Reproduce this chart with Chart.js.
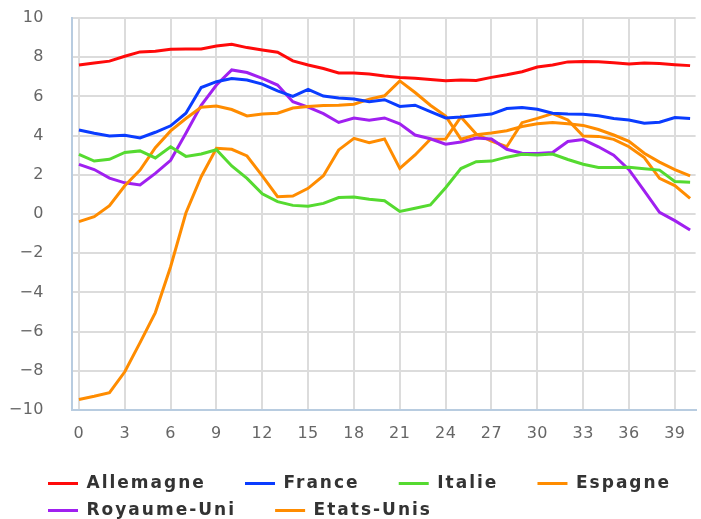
<!DOCTYPE html>
<html>
<head>
<meta charset="utf-8">
<script src="https://cdn.jsdelivr.net/npm/chart.js@4.4.0/dist/chart.umd.min.js"></script>
<style>
  html, body { margin: 0; padding: 0; background: #fff; }
  #chart { display: block; }
</style>
</head>
<body>
<canvas id="chart" width="701" height="519"></canvas>
<script>
var periods = [0, 1, 2, 3, 4, 5, 6, 7, 8, 9, 10, 11, 12, 13, 14, 15, 16, 17, 18, 19, 20,
  21, 22, 23, 24, 25, 26, 27, 28, 29, 30, 31, 32, 33, 34, 35, 36, 37, 38, 39, 40];
var xTicks = [0, 3, 6, 9, 12, 15, 18, 21, 24, 27, 30, 33, 36, 39];
var yTicks = [-10, -8, -6, -4, -2, 0, 2, 4, 6, 8, 10];

var allemagne = [7.6, 7.7, 7.8, 8.05, 8.27, 8.3, 8.4, 8.42, 8.42, 8.57, 8.66, 8.49, 8.37, 8.25, 7.81,
  7.6, 7.42, 7.2, 7.19, 7.14, 7.04, 6.97, 6.92, 6.86, 6.8, 6.84, 6.81, 6.97, 7.1, 7.26,
  7.5, 7.6, 7.76, 7.78, 7.77, 7.72, 7.65, 7.7, 7.68, 7.62, 7.57];
var france = [4.29, 4.12, 3.98, 4.02, 3.88, 4.17, 4.5, 5.14, 6.45, 6.75, 6.91, 6.84, 6.63, 6.28, 6.0,
  6.36, 6.02, 5.92, 5.87, 5.73, 5.83, 5.49, 5.55, 5.22, 4.9, 4.95, 5.03, 5.1, 5.38, 5.43,
  5.34, 5.14, 5.1, 5.09, 5.01, 4.87, 4.8, 4.63, 4.68, 4.92, 4.87];
var italie = [3.04, 2.7, 2.79, 3.14, 3.22, 2.86, 3.43, 2.94, 3.06, 3.28, 2.45, 1.82, 1.03, 0.63, 0.44,
  0.4, 0.54, 0.84, 0.87, 0.75, 0.68, 0.13, 0.29, 0.46, 1.34, 2.32, 2.67, 2.7, 2.9, 3.05,
  3.01, 3.06, 2.78, 2.54, 2.37, 2.37, 2.38, 2.31, 2.24, 1.66, 1.62];
var espagne = [-0.39, -0.14, 0.42, 1.44, 2.24, 3.38, 4.24, 4.87, 5.45, 5.51, 5.33, 5.0, 5.1, 5.14, 5.41,
  5.49, 5.53, 5.55, 5.6, 5.86, 6.03, 6.79, 6.2, 5.55, 5.0, 3.82, 4.05, 4.13, 4.25, 4.46,
  4.6, 4.67, 4.6, 4.52, 4.31, 4.03, 3.71, 3.1, 2.65, 2.26, 1.95];
var royaumeUni = [2.53, 2.27, 1.83, 1.59, 1.48, 2.07, 2.74, 4.12, 5.55, 6.58, 7.35, 7.22, 6.92, 6.58, 5.73,
  5.45, 5.12, 4.67, 4.9, 4.78, 4.9, 4.6, 4.03, 3.84, 3.56, 3.67, 3.88, 3.83, 3.3, 3.1,
  3.09, 3.14, 3.7, 3.8, 3.43, 3.0, 2.26, 1.18, 0.08, -0.34, -0.82];
var etatsUnis = [-9.46, -9.3, -9.12, -8.05, -6.56, -5.03, -2.69, 0.05, 1.9, 3.35, 3.3, 2.96, 1.95, 0.88, 0.92,
  1.31, 1.95, 3.27, 3.86, 3.64, 3.83, 2.33, 3.01, 3.81, 3.83, 4.95, 4.08, 3.72, 3.43, 4.66,
  4.88, 5.12, 4.8, 3.98, 3.96, 3.81, 3.43, 2.88, 1.82, 1.45, 0.8];

var seriesNames = ["Allemagne", "France", "Italie", "Espagne", "Royaume-Uni", "Etats-Unis"];
var seriesValues = [allemagne, france, italie, espagne, royaumeUni, etatsUnis];
var seriesColors = ["#ff0a0a", "#0a3cff", "#55da30", "#ff8c00", "#a020f0", "#ff8c00"];

var datasets = seriesNames.map(function (name, i) {
  return {
    label: name,
    data: seriesValues[i],
    borderColor: seriesColors[i],
    backgroundColor: seriesColors[i],
    borderWidth: 3,
    pointRadius: 0,
    tension: 0,
    fill: false
  };
});

// canvas letter spacing: wide for the legend, light for the axis labels
var spacingPlugin = {
  id: "spacing",
  beforeLayout: function (chart) { chart.ctx.letterSpacing = "2px"; },
  afterLayout: function (chart) {
    // push the legend rows right, the y axis keeps its place
    chart.legend.left += 30;
    chart.legend.right += 30;
  },
  beforeDraw: function (chart) { chart.ctx.letterSpacing = "2px"; },
  afterDatasetsDraw: function (chart) { chart.ctx.letterSpacing = "0.5px"; }
};

var tickFont = { family: "'DejaVu Sans', sans-serif", size: 16 };

new Chart(document.getElementById("chart"), {
  type: "line",
  data: { labels: periods, datasets: datasets },
  plugins: [spacingPlugin],
  options: {
    responsive: false,
    animation: false,
    layout: { padding: { left: 8, right: 0, top: 18, bottom: -10 } },
    scales: {
      x: {
        type: "linear",
        min: -0.454,
        max: 40.36,
        afterBuildTicks: function (scale) {
          scale.ticks = xTicks.map(function (v) { return { value: v }; });
        },
        afterFit: function (scale) { scale.height = 55; },
        ticks: {
          z: 1,
          padding: 14,
          maxRotation: 0,
          autoSkip: false,
          color: "#666",
          font: tickFont,
          callback: function (v) { return String(v); }
        },
        grid: { color: "#dcdcdc", lineWidth: 2, drawTicks: false },
        border: { color: "#b8cce0", width: 2 }
      },
      y: {
        min: -10,
        max: 10,
        afterBuildTicks: function (scale) {
          scale.ticks = yTicks.map(function (v) { return { value: v }; });
        },
        afterFit: function (scale) {
          scale.width = 64;
          scale.paddingTop = 0;
          scale.paddingBottom = 0;
        },
        ticks: {
          z: 1,
          padding: 28,
          color: "#666",
          font: tickFont,
          callback: function (v) { return String(v).replace("-", "\u2212"); }
        },
        grid: { color: "#dcdcdc", lineWidth: 2, drawTicks: false },
        border: { color: "#b8cce0", width: 2 }
      }
    },
    plugins: {
      tooltip: { enabled: false },
      legend: {
        position: "bottom",
        align: "start",
        labels: {
          boxWidth: 30,
          boxHeight: 3,
          padding: 10,
          color: "#333",
          font: { family: "'DejaVu Sans', sans-serif", size: 17, weight: "bold" },
          generateLabels: function (chart) {
            return Chart.defaults.plugins.legend.labels.generateLabels(chart).map(function (item) {
              item.text = item.text + "\u00a0\u00a0\u00a0\u2009";
              item.fillStyle = item.strokeStyle;
              item.lineWidth = 0;
              return item;
            });
          }
        }
      }
    }
  }
});
</script>
</body>
</html>
